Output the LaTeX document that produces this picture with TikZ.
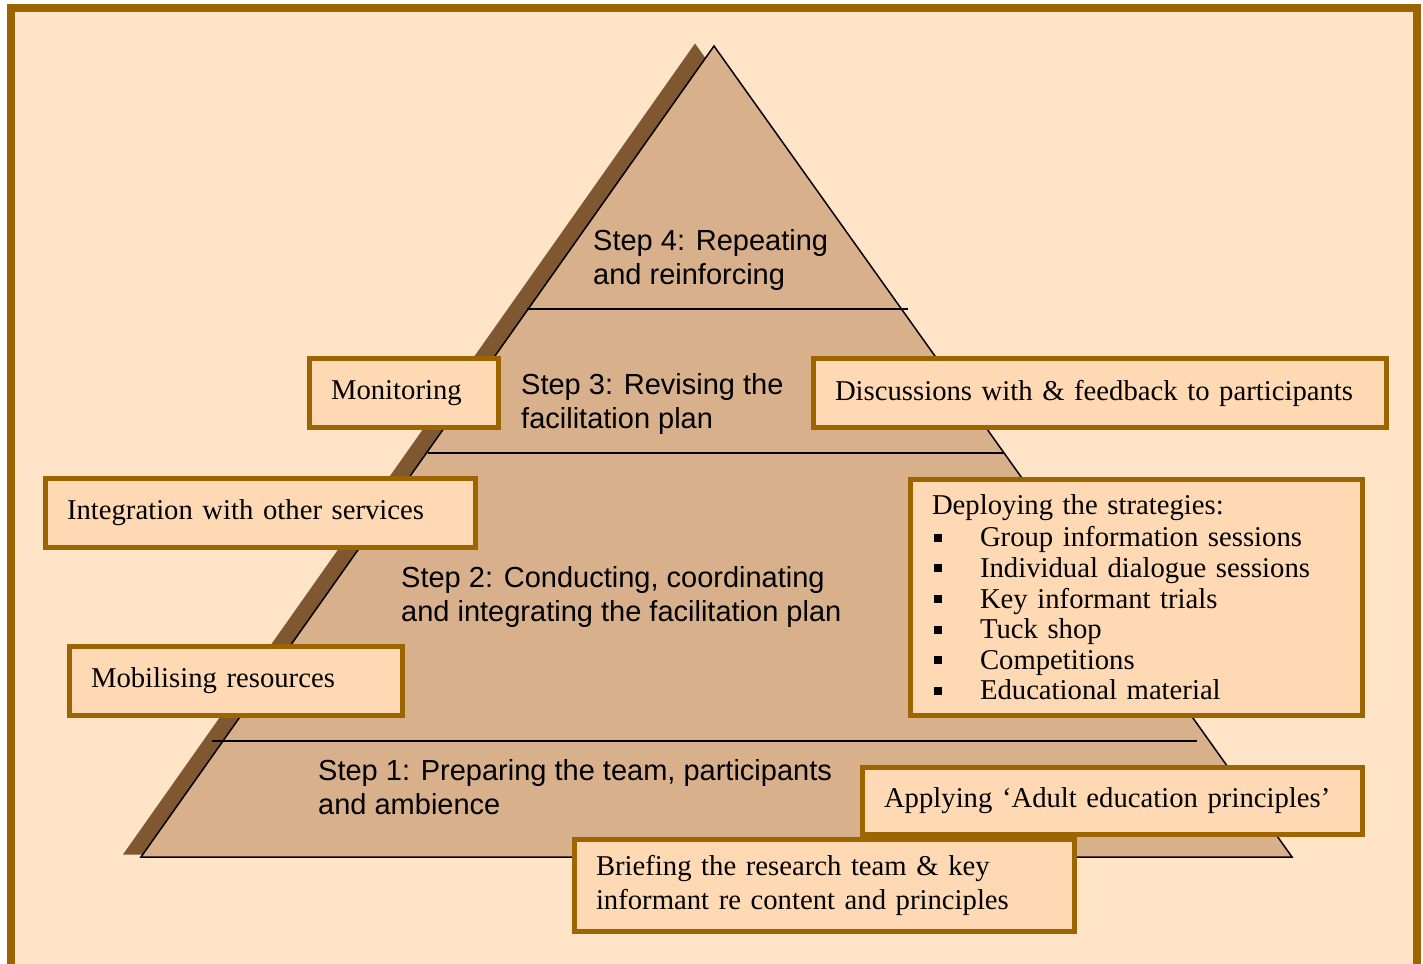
\documentclass[tikz,border=0pt]{standalone}
\usepackage{fontspec}
\setmainfont{Liberation Serif}
\setsansfont{Liberation Sans}
\definecolor{frame}{HTML}{9C6500}
\definecolor{paper}{HTML}{FFE4C8}
\definecolor{stone}{HTML}{D8B18C}
\definecolor{umber}{HTML}{7F5730}
\definecolor{note}{HTML}{FFD9B3}
\newcommand\listmark{\makebox[48pt][l]{\hspace*{2pt}\rule[5pt]{8pt}{8pt}}}

\begin{document}
\begin{tikzpicture}[x=1pt,y=-1pt,
    tag/.style={draw=frame,line width=5pt,fill=note,anchor=north west,
                inner xsep=21.5pt,inner ysep=0pt,align=left,
                font=\fontsize{28.7}{34}\selectfont},
    steplabel/.style={anchor=west,inner sep=0pt,align=left,
                font=\sffamily\fontsize{29}{34}\selectfont}]
\useasboundingbox (0,0) rectangle (1423,963);
\clip (0,0) rectangle (1423,963);
\fill[white] (0,0) rectangle (1423,963);
\draw[frame,line width=8pt,fill=paper] (11,8) rectangle (1417,990);

\fill[umber] (695,43.5) -- (123,854.5) -- (1274,854.5) -- cycle;
\draw[line width=1.5pt,fill=stone] (714,46) -- (141,857) -- (1292,857) -- cycle;
\draw[line width=1.2pt]
      (527,309) -- (908,309)
      (428,453) -- (1004,453)
      (212,741) -- (1197,741);

\path
      (593,260)   node [steplabel] (step4) {Step 4: Repeating\\and reinforcing}
      (521,404)   node [steplabel] (step3) {Step 3: Revising the\\facilitation plan}
      (401,596.5) node [steplabel] (step2) {Step 2: Conducting, coordinating\\and integrating the facilitation plan}
      (318,787)   node [steplabel] (step1) {Step 1: Preparing the team, participants\\and ambience};

\node [tag,minimum width=189pt,minimum height=69pt,text width=146pt]
      (monitor) at (307,356) {Monitoring};
\node [tag,minimum width=573pt,minimum height=69pt,text width=530pt]
      (discuss) at (811,356) {Discussions with \& feedback to participants};
\node [tag,minimum width=430pt,minimum height=69pt,text width=387pt]
      (integrate) at (43,476) {Integration with other services};
\node [tag,minimum width=452pt,minimum height=236pt,text width=409pt,
       font=\fontsize{28.7}{30.6}\selectfont]
      (deploy) at (908,477) {Deploying the strategies:\\[1.4pt]
        \listmark Group information sessions\\
        \listmark Individual dialogue sessions\\
        \listmark Key informant trials\\
        \listmark Tuck shop\\
        \listmark Competitions\\
        \listmark Educational material};
\node [tag,minimum width=333pt,minimum height=69pt,text width=290pt]
      (mobilise) at (67,644) {Mobilising resources};
\node [tag,minimum width=500pt,minimum height=67pt,text width=457pt]
      (adult) at (860,765) {Applying `Adult education principles'};
\node [tag,minimum width=500pt,minimum height=92pt,text width=457pt]
      (brief) at (572,837) {Briefing the research team \& key\\informant re content and principles};
\end{tikzpicture}
\end{document}
